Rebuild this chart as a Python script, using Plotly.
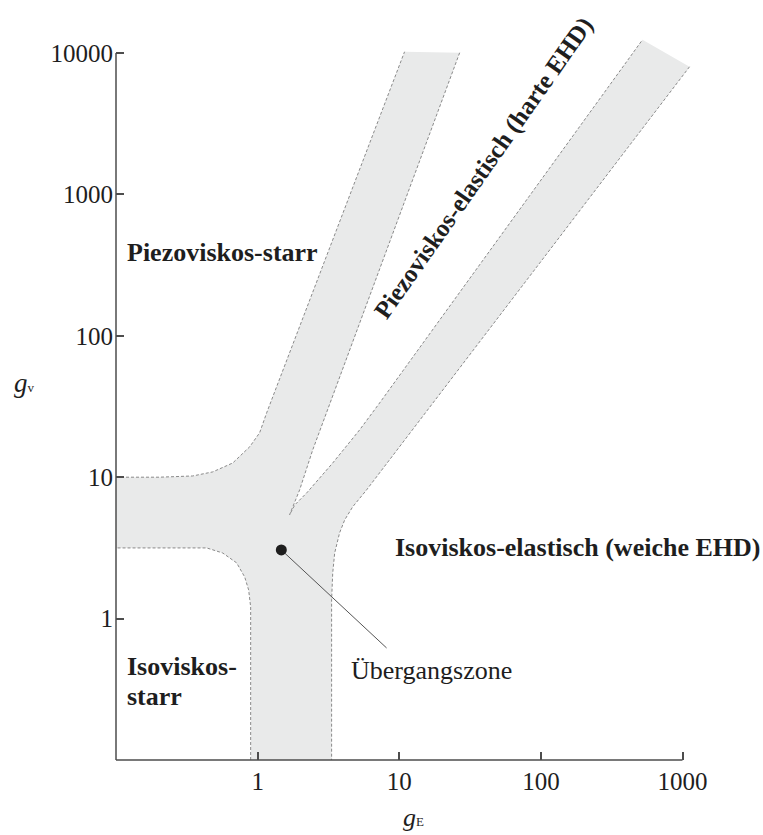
import math
import plotly.graph_objects as go

# ---------------- data (g_E, g_v values) ----------------
# boundary of the transition zone, in data units
edge_upper_left_gE = [0.1, 0.203, 0.348, 0.482, 0.667, 0.879, 1.033, 1.158, 10.9]
edge_upper_left_gV = [10.0, 10.0, 10.2, 10.9, 12.6, 16.4, 20.6, 28.5, 10200]

edge_notch_gE = [26.7, 3.33, 2.45, 1.98, 1.74, 1.68, 1.83, 2.22, 3.39, 5.25, 7.27, 522]
edge_notch_gV = [10040, 35.2, 15.6, 8.13, 5.87, 5.41, 6.37, 7.74, 12.6, 21.6, 33.5, 12410]

edge_right_gE = [1121, 7.27, 5.88, 4.69, 4.12, 3.79, 3.50, 3.39, 3.33, 3.33]
edge_right_gV = [7990, 10.7, 8.13, 6.17, 4.99, 4.04, 2.91, 2.10, 1.36, 0.1]

edge_lower_left_gE = [0.893, 0.893, 0.893, 0.864, 0.810, 0.711, 0.567, 0.437, 0.331, 0.1]
edge_lower_left_gV = [0.1, 0.706, 1.209, 1.595, 1.971, 2.476, 2.91, 3.16, 3.16, 3.16]

# transition point and its leader line end
point_gE = [1.47]
point_gV = [3.06]
leader_gE = [1.47, 8.14]
leader_gV = [3.06, 0.62]

x_tick_vals = [1, 10, 100, 1000]
x_tick_text = ["1", "10", "100", "1000"]
y_tick_vals = [1, 10, 100, 1000, 10000]
y_tick_text = ["1", "10", "100", "1000", "10000"]

# region labels: (text, gE, gV, anchor, angle, bold, size)
labels = [
    ("Piezoviskos-starr", 0.1151, 386.0, "left", 0, True, 26),
    ("Isoviskos-", 0.1151, 0.455, "left", 0, True, 26),
    ("starr", 0.1151, 0.279, "left", 0, True, 26),
    ("Isoviskos-elastisch (weiche EHD)", 9.05, 3.16, "left", 0, True, 26),
    ("Übergangszone", 4.45, 0.433, "left", 0, False, 26),
    ("Piezoviskos-elastisch (harte EHD)", 39.5, 1542.0, "center", -55, True, 25),
]

X_RANGE = [-1, 3.06]
Y_RANGE = [-1, 4.12]

FONT = "Liberation Serif"
FILL = "#e9eaea"
EDGE = "#8a8a8a"
AXIS = "#4d4d4d"
INK = "#1e1e1e"

fig = go.Figure()

poly_x = (edge_upper_left_gE + edge_notch_gE + edge_right_gE + edge_lower_left_gE
          + [edge_upper_left_gE[0]])
poly_y = (edge_upper_left_gV + edge_notch_gV + edge_right_gV + edge_lower_left_gV
          + [edge_upper_left_gV[0]])
fig.add_trace(go.Scatter(x=poly_x, y=poly_y, mode="lines", fill="toself",
                         fillcolor=FILL, line=dict(width=0), hoverinfo="skip",
                         showlegend=False))

for ex, ey in [(edge_upper_left_gE, edge_upper_left_gV),
               (edge_notch_gE, edge_notch_gV),
               (edge_right_gE, edge_right_gV),
               (edge_lower_left_gE, edge_lower_left_gV)]:
    fig.add_trace(go.Scatter(x=ex, y=ey, mode="lines",
                             line=dict(color=EDGE, width=1, dash="3px,2px"),
                             hoverinfo="skip", showlegend=False))

fig.add_trace(go.Scatter(x=leader_gE, y=leader_gV, mode="lines",
                         line=dict(color="#555555", width=1),
                         hoverinfo="skip", showlegend=False))
fig.add_trace(go.Scatter(x=point_gE, y=point_gV, mode="markers",
                         marker=dict(color=INK, size=11),
                         hoverinfo="skip", showlegend=False))

for text, gx, gy, anchor, angle, bold, size in labels:
    fig.add_annotation(x=math.log10(gx), y=math.log10(gy), xref="x", yref="y",
                       text=f"<b>{text}</b>" if bold else text,
                       showarrow=False, xanchor=anchor, yanchor="middle",
                       textangle=angle,
                       font=dict(family=FONT, size=size, color=INK))

# axis titles
fig.add_annotation(x=-0.16, y=0.521, xref="paper", yref="paper",
                   text="<i>g</i><span style='font-size:13px'>v</span>",
                   showarrow=False, xanchor="center", yanchor="middle",
                   font=dict(family=FONT, size=27, color=INK))
fig.add_annotation(x=0.518, y=-0.079, xref="paper", yref="paper",
                   text="<i>g</i><span style='font-size:13px'>E</span>",
                   showarrow=False, xanchor="center", yanchor="middle",
                   font=dict(family=FONT, size=26, color=INK))

# axis lines, from 0.1 to the last tick (paper fractions of the ranges)
x_end = (math.log10(x_tick_vals[-1]) - X_RANGE[0]) / (X_RANGE[1] - X_RANGE[0])
y_end = (math.log10(y_tick_vals[-1]) - Y_RANGE[0]) / (Y_RANGE[1] - Y_RANGE[0])
fig.add_shape(type="line", xref="paper", yref="paper", x0=0, x1=x_end, y0=0, y1=0,
              line=dict(color=AXIS, width=1.5))
fig.add_shape(type="line", xref="paper", yref="paper", x0=0, x1=0, y0=0, y1=y_end,
              line=dict(color=AXIS, width=1.5))

fig.update_xaxes(type="log", range=X_RANGE, showgrid=False, zeroline=False,
                 showline=False, ticks="inside", ticklen=8, tickwidth=1.5,
                 tickcolor=AXIS, tickvals=x_tick_vals, ticktext=x_tick_text,
                 tickfont=dict(family=FONT, size=25, color=INK),
                 ticklabelstandoff=4)
fig.update_yaxes(type="log", range=Y_RANGE, showgrid=False, zeroline=False,
                 showline=False, ticks="inside", ticklen=8, tickwidth=1.5,
                 tickcolor=AXIS, tickvals=y_tick_vals, ticktext=y_tick_text,
                 tickfont=dict(family=FONT, size=25, color=INK),
                 ticklabelstandoff=2)

fig.update_layout(width=763, height=835,
                  margin=dict(l=116, r=72, t=36, b=75, pad=0),
                  paper_bgcolor="white", plot_bgcolor="white",
                  showlegend=False)

fig.write_html("out.html", config={"displayModeBar": False},
               post_script="document.body.style.margin='0';")
